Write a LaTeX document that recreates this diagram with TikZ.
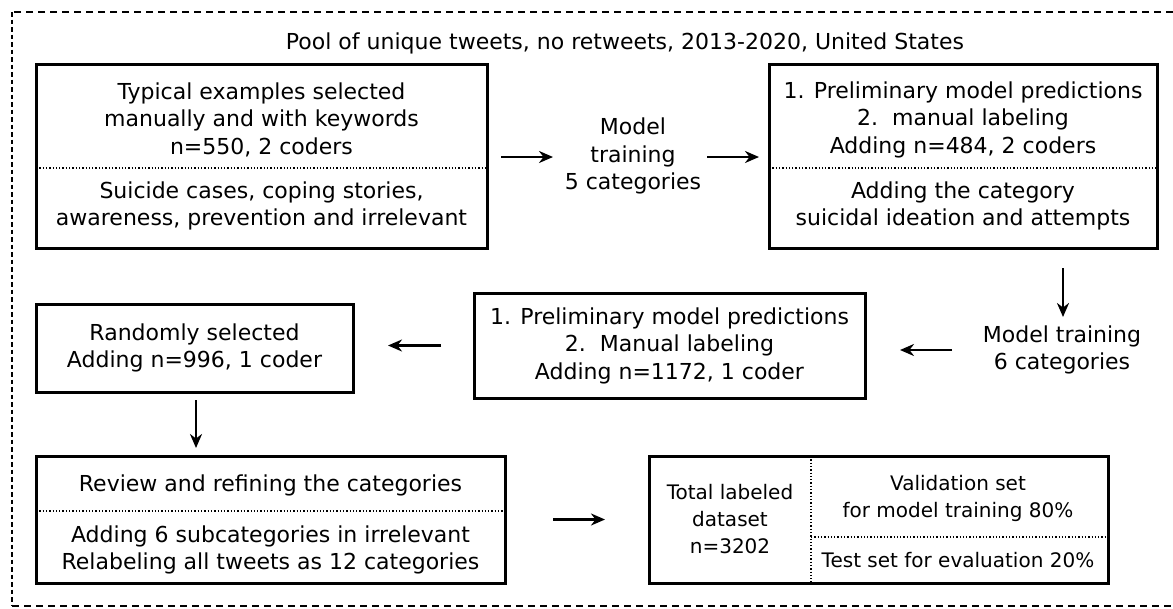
\documentclass[tikz,border=0pt]{standalone}
\usepackage{fontspec}
\setmainfont{DejaVu Sans}
\usetikzlibrary{arrows.meta}
\begin{document}
\begin{tikzpicture}[x=1pt,y=-1pt,
  box/.style={draw,line width=3pt,inner sep=0pt,outer sep=0pt,align=center,font=\fontsize{22}{27.5}\selectfont},
  txt/.style={align=center,font=\fontsize{22}{27.5}\selectfont,inner sep=0pt},
  smalltxt/.style={align=center,font=\fontsize{20}{27}\selectfont,inner sep=0pt},
  div/.style={dotted,line width=1.3pt},
  arr/.style={-{Stealth[length=14pt,width=12pt,inset=4.5pt]},line width=2.3pt}]
\useasboundingbox (0,0) rectangle (1173,608);
% outer frame
\draw[line width=2.8pt,dash pattern=on 7pt off 5pt] (1185,12) -- (12,12);
\draw[line width=2.8pt,dash pattern=on 7pt off 5pt] (12,606) -- (1185,606);
\draw[line width=2.8pt,dash pattern=on 4.5pt off 3pt] (12,12) -- (12,606);
\node[txt] (title) at (625,43) {Pool of unique tweets, no retweets, 2013-2020, United States};
% boxes
\node[box,minimum width=451pt,minimum height=184pt] (b1) at (261.5,156) {};
\node[box,minimum width=388pt,minimum height=184pt] (b2) at (963,156) {};
\node[box,minimum width=391pt,minimum height=105pt] (b4) at (669.5,345.5) {1. Preliminary model predictions\\2.~~Manual labeling\\Adding n=1172, 1 coder};
\node[box,minimum width=317pt,minimum height=88pt] (b3) at (194.5,348) {Randomly selected\\Adding n=996, 1 coder};
\node[box,minimum width=469pt,minimum height=127pt] (b5) at (270.5,519.5) {};
\node[box,minimum width=459pt,minimum height=127pt] (b6) at (878.5,519.5) {};
% dividers
\draw[div] (b1.west |- 0,168) -- (b1.east |- 0,168);
\draw[div] (b2.west |- 0,168) -- (b2.east |- 0,168);
\draw[div] (b5.west |- 0,511) -- (b5.east |- 0,511);
\draw[div] (811,0 |- b6.north) -- (811,0 |- b6.south);
\draw[div] (811,537) -- (b6.east |- 0,537);
% box texts
\node[txt] (t1a) at (261.5,119.5) {Typical examples selected\\manually and with keywords\\n=550, 2 coders};
\node[txt] (t1b) at (261.5,206) {Suicide cases, coping stories,\\awareness, prevention and irrelevant};
\node[txt] (t2a) at (963,119.5) {1. Preliminary model predictions\\2.~~manual labeling\\Adding n=484, 2 coders};
\node[txt] (t2b) at (963,206) {Adding the category\\suicidal ideation and attempts};
\node[txt] (t5a) at (270.5,485) {Review and refining the categories};
\node[txt] (t5b) at (270.5,550) {Adding 6 subcategories in irrelevant\\Relabeling all tweets as 12 categories};
\node[smalltxt] (t6a) at (730,519) {Total labeled\\dataset\\n=3202};
\node[smalltxt] (t6b) at (958,498) {Validation set\\for model training 80\%};
\node[smalltxt] (t6c) at (958,560) {Test set for evaluation 20\%};
% free labels
\node[txt] (m1) at (633,156) {Model\\training\\5 categories};
\node[txt] (m2) at (1062,350) {Model training\\6 categories};
% arrows
\draw[arr] (501,157) coordinate (a1s) -- (553,157) coordinate (a1e);
\draw[arr] (707,157) coordinate (a2s) -- (759,157) coordinate (a2e);
\draw[arr,shorten <=20pt,shorten >=-2pt] (b2.south -| 1063,0) -- (1063,315) coordinate (a3e);
\draw[arr] (952,350) coordinate (a4s) -- (900,350) coordinate (a4e);
\draw[arr] (b4.west -| 441,0) -- (b4.west -| 388,0);
\draw[arr,shorten <=8pt,shorten >=8pt] (b3.south -| 196,0) -- (b5.north -| 196,0);
\draw[arr] (b5.east -| 553,0) -- (b5.east -| 605,0);
\end{tikzpicture}
\end{document}
